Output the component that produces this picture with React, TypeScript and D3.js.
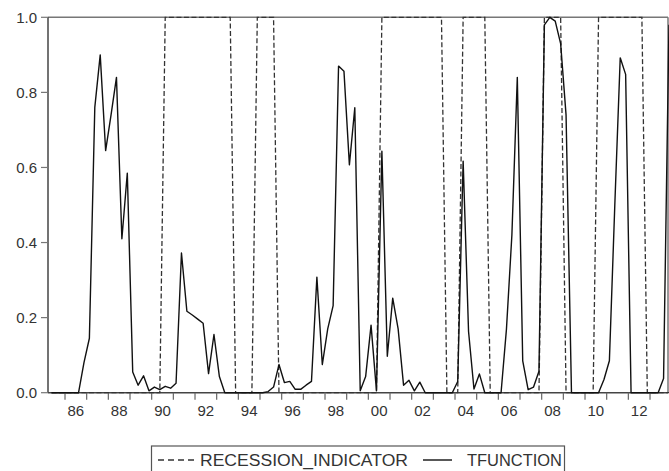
import React, { useEffect, useRef } from 'react';
import * as d3 from 'd3';

// quarterly sample, first observation 1985Q2
const startYear = 1985;
const startQuarter = 2;

const tfunction = [
  0, 0, 0, 0, 0, 0, 0.08, 0.145, 0.76, 0.9, 0.645, 0.74, 0.84, 0.41, 0.585, 0.055,
  0.02, 0.045, 0.005, 0.015, 0.008, 0.017, 0.012, 0.025, 0.372, 0.217, 0.207, 0.196, 0.185, 0.051,
  0.155, 0.043, 0, 0, 0, 0, 0, 0, 0, 0, 0.003, 0.015, 0.075, 0.027, 0.03,
  0.009, 0.009, 0.02, 0.03, 0.308, 0.075, 0.17, 0.232, 0.87, 0.856, 0.607, 0.759, 0.005, 0.043, 0.18,
  0.005, 0.643, 0.097, 0.252, 0.17, 0.02, 0.033, 0.005, 0.028, 0, 0, 0, 0, 0, 0,
  0.03, 0.617, 0.163, 0.01, 0.05, 0, 0, 0, 0, 0.17, 0.42, 0.84, 0.085, 0.008, 0.015,
  0.057, 0.98, 1.0, 0.99, 0.93, 0.74, 0, 0, 0, 0, 0, 0, 0.035, 0.085, 0.5,
  0.892, 0.848, 0, 0, 0, 0, 0, 0, 0.038, 0.98,
];

const recession = [
  0, 0, 0, 0, 0, 0, 0, 0, 0, 0, 0, 0, 0, 0, 0, 0, 0, 0, 0, 0, 0,
  1, 1, 1, 1, 1, 1, 1, 1, 1, 1, 1, 1, 1,
  0, 0, 0, 0,
  1, 1, 1, 1,
  0, 0, 0, 0, 0, 0, 0, 0, 0, 0, 0, 0, 0, 0, 0, 0, 0, 0, 0,
  1, 1, 1, 1, 1, 1, 1, 1, 1, 1, 1, 1,
  0, 0, 0,
  1, 1, 1, 1, 1,
  0, 0, 0, 0, 0, 0, 0, 0, 0, 0,
  1, 1, 1, 1,
  0, 0, 0, 0, 0, 0,
  1, 1, 1, 1, 1, 1, 1, 1, 1,
  0, 0, 0, 0, 0,
];

const yTicks = [0, 0.2, 0.4, 0.6, 0.8, 1.0];
const xTickYears = [1986, 1987, 1988, 1989, 1990, 1991, 1992, 1993, 1994, 1995, 1996, 1997, 1998, 1999,
  2000, 2001, 2002, 2003, 2004, 2005, 2006, 2007, 2008, 2009, 2010, 2011, 2012, 2013];
const xLabels = ['86', '88', '90', '92', '94', '96', '98', '00', '02', '04', '06', '08', '10', '12'];
const xLabelYears = [1986, 1988, 1990, 1992, 1994, 1996, 1998, 2000, 2002, 2004, 2006, 2008, 2010, 2012];

const font = '"Liberation Sans", Arial, sans-serif';

const App = () => {
  const svgRef = useRef(null);

  useEffect(() => {
    const svg = d3.select(svgRef.current);
    svg.selectAll('*').remove();

    const left = 48;
    const right = 668;
    const top = 17.3;
    const bottom = 392.7;

    const x = d3.scaleLinear().domain([1985.215, 2013.83]).range([left, right]);
    const y = d3.scaleLinear().domain([0, 1]).range([bottom, top]);

    const period = (i) => startYear + (startQuarter - 1 + i) / 4 + 0.125;

    // frame
    svg.append('line').attr('x1', left).attr('x2', right).attr('y1', top).attr('y2', top)
      .attr('stroke', '#777').attr('stroke-width', 1.5);
    svg.append('line').attr('x1', right).attr('x2', right).attr('y1', top).attr('y2', bottom)
      .attr('stroke', '#777').attr('stroke-width', 1.5);
    svg.append('line').attr('x1', left).attr('x2', left).attr('y1', top).attr('y2', bottom)
      .attr('stroke', '#444').attr('stroke-width', 1.5);
    svg.append('line').attr('x1', left).attr('x2', right).attr('y1', bottom).attr('y2', bottom)
      .attr('stroke', '#444').attr('stroke-width', 1.5);

    // y axis
    const yg = svg.append('g');
    yTicks.forEach(v => {
      yg.append('line').attr('x1', left - 7).attr('x2', left).attr('y1', y(v)).attr('y2', y(v))
        .attr('stroke', '#777').attr('stroke-width', 1.2);
      yg.append('text').attr('x', 37).attr('y', y(v) + 5.5)
        .attr('text-anchor', 'end').attr('font-family', font).attr('font-size', 15)
        .attr('fill', '#333').text(v.toFixed(1));
    });

    // x axis
    const xg = svg.append('g');
    xTickYears.forEach(yr => {
      xg.append('line').attr('x1', x(yr)).attr('x2', x(yr)).attr('y1', bottom).attr('y2', bottom + 7)
        .attr('stroke', '#666').attr('stroke-width', 1.2);
    });
    xLabelYears.forEach((yr, i) => {
      xg.append('text').attr('x', x(yr + 0.5)).attr('y', 416)
        .attr('text-anchor', 'middle').attr('font-family', font).attr('font-size', 15)
        .attr('fill', '#333').text(xLabels[i]);
    });

    const recLine = d3.line()
      .x((d, i) => x(period(i)))
      .y(d => y(d));

    svg.append('path')
      .datum(recession)
      .attr('fill', 'none')
      .attr('stroke', '#333')
      .attr('stroke-width', 1.3)
      .attr('stroke-dasharray', '5,2.5')
      .attr('d', recLine);

    const tfLine = d3.line()
      .x((d, i) => x(period(i)))
      .y(d => y(d));

    svg.append('path')
      .datum(tfunction)
      .attr('fill', 'none')
      .attr('stroke', '#111')
      .attr('stroke-width', 1.4)
      .attr('stroke-linejoin', 'round')
      .attr('d', tfLine);

    // legend
    const lg = svg.append('g');
    lg.append('rect').attr('x', 151.5).attr('y', 446).attr('width', 413).attr('height', 40)
      .attr('fill', 'none').attr('stroke', '#555').attr('stroke-width', 1.2);
    lg.append('line').attr('x1', 158).attr('x2', 195).attr('y1', 460).attr('y2', 460)
      .attr('stroke', '#333').attr('stroke-width', 1.3).attr('stroke-dasharray', '6,4');
    lg.append('text').attr('x', 200).attr('y', 466).attr('font-family', font).attr('font-size', 16)
      .attr('fill', '#333').attr('textLength', 208).attr('lengthAdjust', 'spacingAndGlyphs')
      .text('RECESSION_INDICATOR');
    lg.append('line').attr('x1', 423).attr('x2', 452).attr('y1', 460).attr('y2', 460)
      .attr('stroke', '#111').attr('stroke-width', 1.4);
    lg.append('text').attr('x', 467).attr('y', 466).attr('font-family', font).attr('font-size', 16)
      .attr('fill', '#333').attr('textLength', 95).attr('lengthAdjust', 'spacingAndGlyphs')
      .text('TFUNCTION');
  }, []);

  return (
    <svg ref={svgRef} width={669} height={471}
      style={{ position: 'absolute', left: 0, top: 0, background: '#fff' }} />
  );
};

export default App;
